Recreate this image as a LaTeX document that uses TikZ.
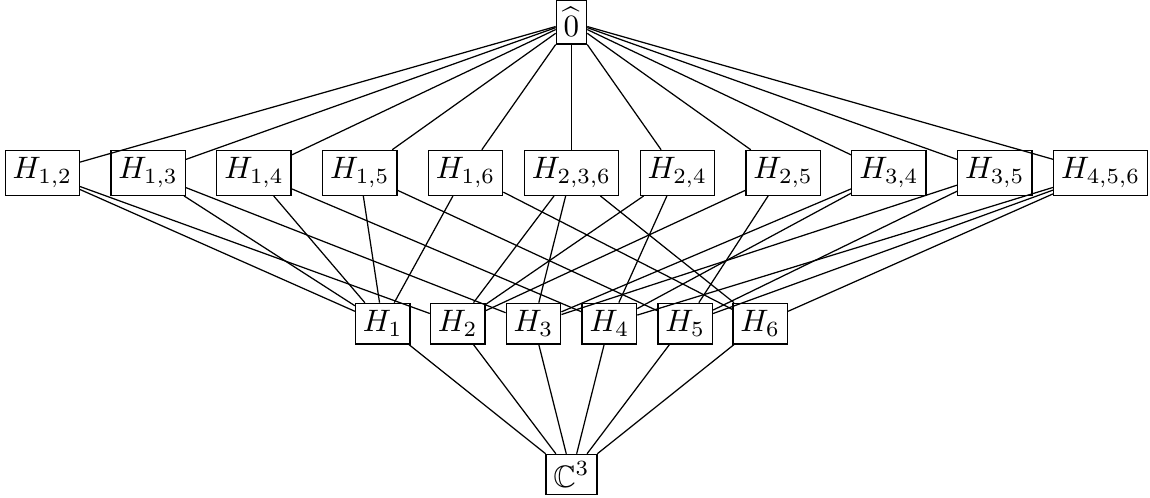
\documentclass[tikz,border=0pt]{standalone}
\usepackage{amssymb}
\usepackage{tikz}

\tikzset{flat/.style={draw, rectangle, inner sep=2.4pt}}

\begin{document}
\begin{tikzpicture}
  \useasboundingbox (-6.48,-0.266) rectangle (6.56,5.38);
  \node[flat] (0) at (0.00,5.13) {$\widehat{0}$};
  \node[flat] (12) at (-6.00,3.42) {$H_{1,2}$};
  \node[flat] (13) at (-4.80,3.42) {$H_{1,3}$};
  \node[flat] (14) at (-3.60,3.42) {$H_{1,4}$};
  \node[flat] (15) at (-2.40,3.42) {$H_{1,5}$};
  \node[flat] (16) at (-1.20,3.42) {$H_{1,6}$};
  \node[flat] (236) at (0.00,3.42) {$H_{2,3,6}$};
  \node[flat] (24) at (1.20,3.42) {$H_{2,4}$};
  \node[flat] (25) at (2.40,3.42) {$H_{2,5}$};
  \node[flat] (34) at (3.60,3.42) {$H_{3,4}$};
  \node[flat] (35) at (4.80,3.42) {$H_{3,5}$};
  \node[flat] (456) at (6.00,3.42) {$H_{4,5,6}$};
  \node[flat] (1) at (-2.14,1.71) {$H_1$};
  \node[flat] (2) at (-1.29,1.71) {$H_2$};
  \node[flat] (3) at (-0.43,1.71) {$H_3$};
  \node[flat] (4) at (0.43,1.71) {$H_4$};
  \node[flat] (5) at (1.29,1.71) {$H_5$};
  \node[flat] (6) at (2.14,1.71) {$H_6$};
  \node[flat] (C) at (0.00,0.00) {$\mathbb{C}^3$};
  % Draw the cover relations
  \draw (0) -- (12);
  \draw (0) -- (13);
  \draw (0) -- (14);
  \draw (0) -- (15);
  \draw (0) -- (16);
  \draw (0) -- (236);
  \draw (0) -- (24);
  \draw (0) -- (25);
  \draw (0) -- (34);
  \draw (0) -- (35);
  \draw (0) -- (456);
  \draw (12) -- (1);
  \draw (12) -- (2);
  \draw (13) -- (1);
  \draw (13) -- (3);
  \draw (14) -- (1);
  \draw (14) -- (4);
  \draw (15) -- (1);
  \draw (15) -- (5);
  \draw (16) -- (1);
  \draw (16) -- (6);
  \draw (236) -- (2);
  \draw (236) -- (3);
  \draw (236) -- (6);
  \draw (24) -- (2);
  \draw (24) -- (4);
  \draw (25) -- (2);
  \draw (25) -- (5);
  \draw (34) -- (3);
  \draw (34) -- (4);
  \draw (35) -- (3);
  \draw (35) -- (5);
  \draw (456) -- (4);
  \draw (456) -- (5);
  \draw (456) -- (6);
  \draw (1) -- (C);
  \draw (2) -- (C);
  \draw (3) -- (C);
  \draw (4) -- (C);
  \draw (5) -- (C);
  \draw (6) -- (C);
\end{tikzpicture}
\end{document}
